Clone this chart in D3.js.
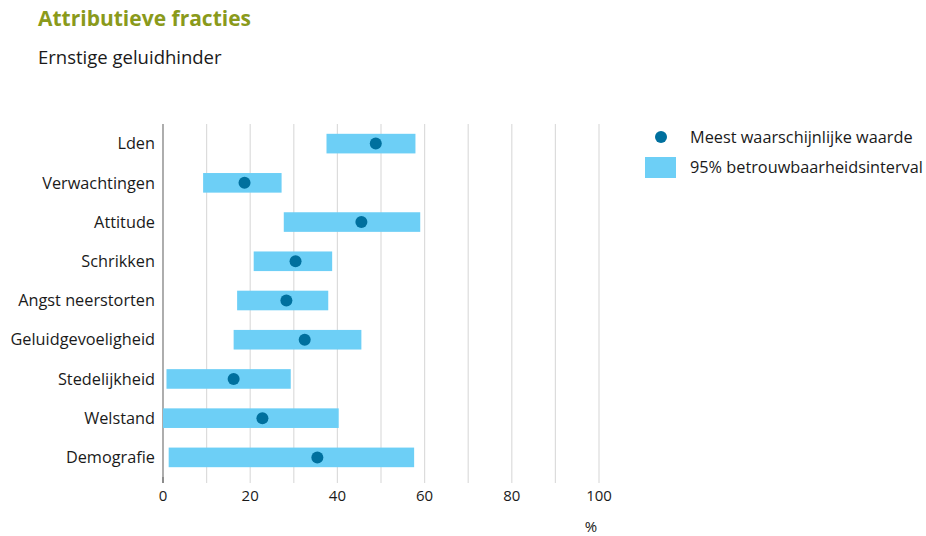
<!DOCTYPE html>
<html>
<head>
<meta charset="utf-8">
<script src="https://cdn.jsdelivr.net/npm/d3@7"></script>
<style>
  body { margin: 0; background: #fff; font-family: "Open Sans", sans-serif; }
</style>
</head>
<body>
<div id="container"></div>
<script>
// Data
const categories = ['Lden', 'Verwachtingen', 'Attitude', 'Schrikken', 'Angst neerstorten',
    'Geluidgevoeligheid', 'Stedelijkheid', 'Welstand', 'Demografie'];
const lower = [37.5, 9.2, 27.7, 20.8, 17.0, 16.2, 0.8, 0.0, 1.3];
const upper = [57.9, 27.2, 59.0, 38.8, 37.9, 45.5, 29.3, 40.3, 57.6];
const estimate = [48.8, 18.7, 45.5, 30.4, 28.3, 32.5, 16.2, 22.8, 35.4];
const xTicks = [0, 20, 40, 60, 80, 100];

const width = 926;
const height = 536;
const margin = { top: 124, left: 163, right: 327, bottom: 59 };

const barColor = '#6dcff6';
const dotColor = '#00709e';

const svg = d3.select('#container').append('svg')
    .attr('width', width)
    .attr('height', height);

// Titles
svg.append('text')
    .attr('x', 38).attr('y', 26)
    .attr('fill', '#8a9a1b')
    .attr('font-size', 21).attr('font-weight', 'bold')
    .text('Attributieve fracties');

svg.append('text')
    .attr('x', 38).attr('y', 64)
    .attr('fill', '#1a1a1a')
    .attr('font-size', 18.5)
    .text('Ernstige geluidhinder');

const x = d3.scaleLinear()
    .domain([0, 100])
    .range([margin.left, width - margin.right]);

const y = d3.scaleBand()
    .domain(categories)
    .range([margin.top, height - margin.bottom])
    .paddingInner(0.5)
    .paddingOuter(0.25);

// Gridlines every 10
svg.append('g')
    .selectAll('line')
    .data(d3.range(10, 101, 10))
    .enter().append('line')
    .attr('x1', d => x(d)).attr('x2', d => x(d))
    .attr('y1', margin.top).attr('y2', height - margin.bottom)
    .attr('stroke', '#dcdcdc')
    .attr('stroke-width', 1.2);

// Small tick marks under the plot
svg.append('g')
    .selectAll('line')
    .data(d3.range(0, 101, 10))
    .enter().append('line')
    .attr('x1', d => x(d)).attr('x2', d => x(d))
    .attr('y1', height - margin.bottom).attr('y2', height - margin.bottom + 6)
    .attr('stroke', d => d === 0 ? '#777' : '#dcdcdc')
    .attr('stroke-width', 1.2);

// Left axis line
svg.append('line')
    .attr('x1', x(0)).attr('x2', x(0))
    .attr('y1', margin.top).attr('y2', height - margin.bottom + 6)
    .attr('stroke', '#777')
    .attr('stroke-width', 1.2);

// Interval bars
svg.append('g')
    .selectAll('rect')
    .data(categories)
    .enter().append('rect')
    .attr('x', (d, i) => x(lower[i]))
    .attr('y', d => y(d))
    .attr('width', (d, i) => x(upper[i]) - x(lower[i]))
    .attr('height', y.bandwidth())
    .attr('fill', barColor);

// Estimate dots
svg.append('g')
    .selectAll('circle')
    .data(categories)
    .enter().append('circle')
    .attr('cx', (d, i) => x(estimate[i]))
    .attr('cy', d => y(d) + y.bandwidth() / 2)
    .attr('r', 6)
    .attr('fill', dotColor);

// Category labels
svg.append('g')
    .selectAll('text')
    .data(categories)
    .enter().append('text')
    .attr('x', margin.left - 8)
    .attr('y', d => y(d) + y.bandwidth() / 2)
    .attr('dy', '0.35em')
    .attr('text-anchor', 'end')
    .attr('font-size', 16.3)
    .attr('fill', '#1a1a1a')
    .text(d => d);

// X tick labels
svg.append('g')
    .selectAll('text')
    .data(xTicks)
    .enter().append('text')
    .attr('x', d => x(d))
    .attr('y', 501)
    .attr('text-anchor', 'middle')
    .attr('font-size', 15)
    .attr('fill', '#1a1a1a')
    .text(d => d);

svg.append('text')
    .attr('x', 591).attr('y', 527)
    .attr('dy', '0.35em')
    .attr('text-anchor', 'middle')
    .attr('font-size', 15)
    .attr('fill', '#1a1a1a')
    .text('%');

// Legend
const legend = svg.append('g');
legend.append('circle')
    .attr('cx', 661).attr('cy', 137).attr('r', 6)
    .attr('fill', dotColor);
legend.append('text')
    .attr('x', 690).attr('y', 137).attr('dy', '0.35em')
    .attr('font-size', 16.3).attr('fill', '#1a1a1a')
    .text('Meest waarschijnlijke waarde');
legend.append('rect')
    .attr('x', 645).attr('y', 157).attr('width', 31).attr('height', 21)
    .attr('fill', barColor);
legend.append('text')
    .attr('x', 690).attr('y', 167).attr('dy', '0.35em')
    .attr('font-size', 16.3).attr('fill', '#1a1a1a')
    .text('95% betrouwbaarheidsinterval');
</script>
</body>
</html>
